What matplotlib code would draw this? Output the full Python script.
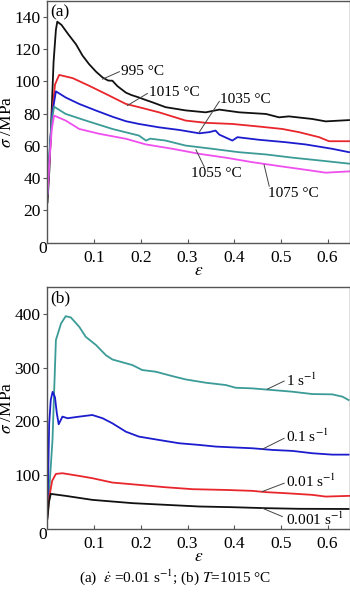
import matplotlib.pyplot as plt

plt.rcParams['font.family'] = ['Liberation Serif', 'DejaVu Serif']
plt.rcParams['mathtext.fontset'] = 'stix'

# (a) strain rate 0.01 s^-1, different temperatures
temp_labels = ['995 °C', '1015 °C', '1035 °C', '1055 °C', '1075 °C']
temp_colors = ['#111111', '#e8262b', '#1c1ccf', '#3b9b97', '#ee4fee']

strain_995 = [0.0, 0.004, 0.008, 0.013, 0.018, 0.021, 0.03, 0.045, 0.061, 0.075, 0.089, 0.104, 0.118, 0.13, 0.139,
              0.15, 0.168, 0.18, 0.196, 0.21, 0.225, 0.253, 0.296, 0.339, 0.368, 0.411, 0.468, 0.496, 0.517, 0.567, 0.596, 0.646]
stress_995 = [25, 45, 75, 112, 132, 137, 135, 129, 123, 116, 110.7, 106, 102.4, 100.5, 100.4,
              97, 93, 91.5, 90, 88.5, 87, 84, 82, 80.8, 82.5, 80.8, 79.8, 77.7, 78.3, 76.7, 75.2, 76]

strain_1015 = [0.0, 0.005, 0.01, 0.016, 0.025, 0.054, 0.089, 0.125, 0.168, 0.196, 0.239, 0.296, 0.339, 0.396, 0.453,
               0.503, 0.539, 0.582, 0.603, 0.646]
stress_1015 = [30, 55, 80, 98, 104, 102, 97.3, 92.2, 86, 84, 80.8, 75.7, 74.3, 73.6, 72, 70.5, 68.5, 65.4, 62.9, 62.9]

strain_1035 = [0.0, 0.005, 0.01, 0.018, 0.039, 0.068, 0.104, 0.139, 0.168, 0.196, 0.239, 0.282, 0.325, 0.346, 0.36,
               0.368, 0.396, 0.407, 0.453, 0.51, 0.553, 0.61, 0.646]
stress_1035 = [30, 58, 80, 93.8, 90, 86, 81.9, 78.1, 75.3, 73.6, 71.5, 69.9, 67.8, 68.5, 69.5, 67, 63.3, 65.4, 63.8,
               62.3, 60.9, 58.2, 56.1]

strain_1055 = [0.0, 0.004, 0.009, 0.014, 0.039, 0.082, 0.139, 0.196, 0.211, 0.22, 0.253, 0.296, 0.353, 0.41, 0.468,
               0.525, 0.582, 0.646]
stress_1055 = [30, 55, 75, 84.3, 79.8, 75.7, 70.5, 66.4, 63.3, 64.5, 63.3, 60.2, 58.2, 56.1, 54.7, 52.7, 51, 49]

strain_1075 = [0.0, 0.004, 0.009, 0.014, 0.039, 0.068, 0.111, 0.168, 0.211, 0.268, 0.325, 0.382, 0.439, 0.496, 0.553,
               0.596, 0.646]
stress_1075 = [30, 50, 70, 78.8, 75.7, 70.5, 67.5, 64.4, 60.9, 58.2, 55.1, 52.7, 49.9, 47.5, 45.2, 43.4, 44.2]

# (b) T = 1015 °C, different strain rates
rate_labels = ['1 s$^{-1}$', '0.1 s$^{-1}$', '0.01 s$^{-1}$', '0.001 s$^{-1}$']
rate_colors = ['#3b9b97', '#1c1ccf', '#e8262b', '#111111']

strain_r1 = [0.0, 0.005, 0.0107, 0.018, 0.029, 0.039, 0.05, 0.068, 0.082, 0.104, 0.125, 0.139, 0.182, 0.203, 0.232,
             0.268, 0.296, 0.339, 0.382, 0.403, 0.439, 0.482, 0.525, 0.567, 0.61, 0.632, 0.645]
stress_r1 = [30, 90, 165.7, 351, 381.8, 395.3, 393, 375.6, 357, 341.7, 323, 315, 304.6, 295.4, 292.3,
             284, 278, 271.9, 267.6, 262.6, 261.4, 258.3, 255.2, 250.9, 250.3, 246, 239.8]

strain_r01 = [0.0, 0.0036, 0.007, 0.011, 0.016, 0.02, 0.024, 0.032, 0.043, 0.068, 0.096, 0.118, 0.139, 0.168, 0.196,
              0.239, 0.282, 0.325, 0.361, 0.396, 0.439, 0.482, 0.525, 0.567, 0.61, 0.645]
stress_r01 = [30, 196.6, 240, 255, 245, 215, 194.8, 209, 206, 209, 212, 206, 196.6, 181, 171.9,
              165.7, 159.6, 156.5, 153.4, 152, 150.3, 147.2, 145.4, 141.1, 138.5, 138.5]

strain_r001 = [0.0, 0.004, 0.01, 0.018, 0.032, 0.068, 0.096, 0.139, 0.196, 0.253, 0.311, 0.382, 0.439, 0.468, 0.51,
               0.567, 0.596, 0.646]
stress_r001 = [25, 60.7, 90, 102.8, 104, 99, 94.8, 86.7, 82.4, 78, 74.4, 73, 71.3, 68.9, 67, 63.9, 60.7, 62]

strain_r0001 = [0.0, 0.003, 0.007, 0.039, 0.096, 0.182, 0.253, 0.325, 0.396, 0.468, 0.539, 0.645]
stress_r0001 = [20, 50, 65.7, 62, 54.6, 48.5, 45.4, 42.3, 41, 39.2, 38, 37.7]

# label text position and leader start point (on curve), data coords
temp_text_xy = [(0.157, 106), (0.218, 93), (0.369, 88.6), (0.307, 42.8), (0.473, 30.8)]
temp_line = [((0.118, 101.4), (0.154, 106)), ((0.171, 85), (0.214, 92.5)), ((0.325, 68.5), (0.368, 87.6)),
             ((0.318, 57.6), (0.336, 46.9)), ((0.464, 48.3), (0.475, 35))]
rate_text_xy = [(0.51, 276.9), (0.51, 171.9), (0.51, 88.6), (0.51, 17.6)]
rate_line = [((0.471, 260), (0.507, 275)), ((0.46, 148.5), (0.507, 168.8)), ((0.46, 70), (0.507, 85.5)),
             ((0.46, 39.2), (0.503, 23.7))]

W, H = 350, 592
fig = plt.figure(figsize=(W / 100, H / 100), dpi=100)
ax_a = fig.add_axes([47.5 / W, 1 - 242.7 / H, 302 / W, 242 / H])
ax_b = fig.add_axes([47.5 / W, 1 - 529.3 / H, 302 / W, 242.6 / H])

fs = 12.5
fs_lab = 11
spine_col = '#555555'


def style(ax, ymax, yticks):
    ax.set_xlim(0, 0.647)
    ax.set_ylim(0, ymax)
    ax.set_xticks([0.1, 0.2, 0.3, 0.4, 0.5, 0.6])
    ax.set_yticks(yticks)
    ax.tick_params(axis='x', direction='in', length=3, labelsize=fs, pad=5, color=spine_col)
    ax.tick_params(axis='y', direction='out', length=3, labelsize=fs, pad=2, color=spine_col)
    for s in ax.spines.values():
        s.set_color(spine_col)
        s.set_linewidth(1.0)
    ax.set_xlabel(r'$\varepsilon$', fontsize=fs, labelpad=-2)
    ax.set_ylabel(r'$\sigma$ /MPa', fontsize=fs)
    ax.yaxis.set_label_coords(-0.108, 0.5)
    ax.text(-0.016, -0.025, '0', transform=ax.transAxes, fontsize=fs, ha='center', va='center')


xs_a = [strain_995, strain_1015, strain_1035, strain_1055, strain_1075]
ys_a = [stress_995, stress_1015, stress_1035, stress_1055, stress_1075]
for x, y, c in zip(xs_a, ys_a, temp_colors):
    ax_a.plot(x, y, color=c, lw=1.3)
for lab, (tx, ty), (p0, p1) in zip(temp_labels, temp_text_xy, temp_line):
    ax_a.plot([p0[0], p1[0]], [p0[1], p1[1]], color='#444444', lw=0.7)
    ax_a.text(tx, ty, lab, fontsize=fs_lab, ha='left', va='center')
ax_a.text(0.01, 0.985, '(a)', transform=ax_a.transAxes, fontsize=fs, ha='left', va='top')
style(ax_a, 150, [20, 40, 60, 80, 100, 120, 140])

xs_b = [strain_r1, strain_r01, strain_r001, strain_r0001]
ys_b = [stress_r1, stress_r01, stress_r001, stress_r0001]
for x, y, c in zip(xs_b, ys_b, rate_colors):
    ax_b.plot(x, y, color=c, lw=1.3)
for lab, (tx, ty), (p0, p1) in zip(rate_labels, rate_text_xy, rate_line):
    ax_b.plot([p0[0], p1[0]], [p0[1], p1[1]], color='#444444', lw=0.7)
    ax_b.text(tx, ty, lab, fontsize=fs_lab, ha='left', va='center')
ax_b.text(0.01, 0.985, '(b)', transform=ax_b.transAxes, fontsize=fs, ha='left', va='top')
style(ax_b, 450, [100, 200, 300, 400])

fig.text(0.5, 1 - 577 / H, r'(a)  $\dot{\varepsilon}$ =0.01 s$^{-1}$; (b) $T$=1015 °C',
         fontsize=11, ha='center', va='center')

fig.savefig('out.png', dpi=100)
